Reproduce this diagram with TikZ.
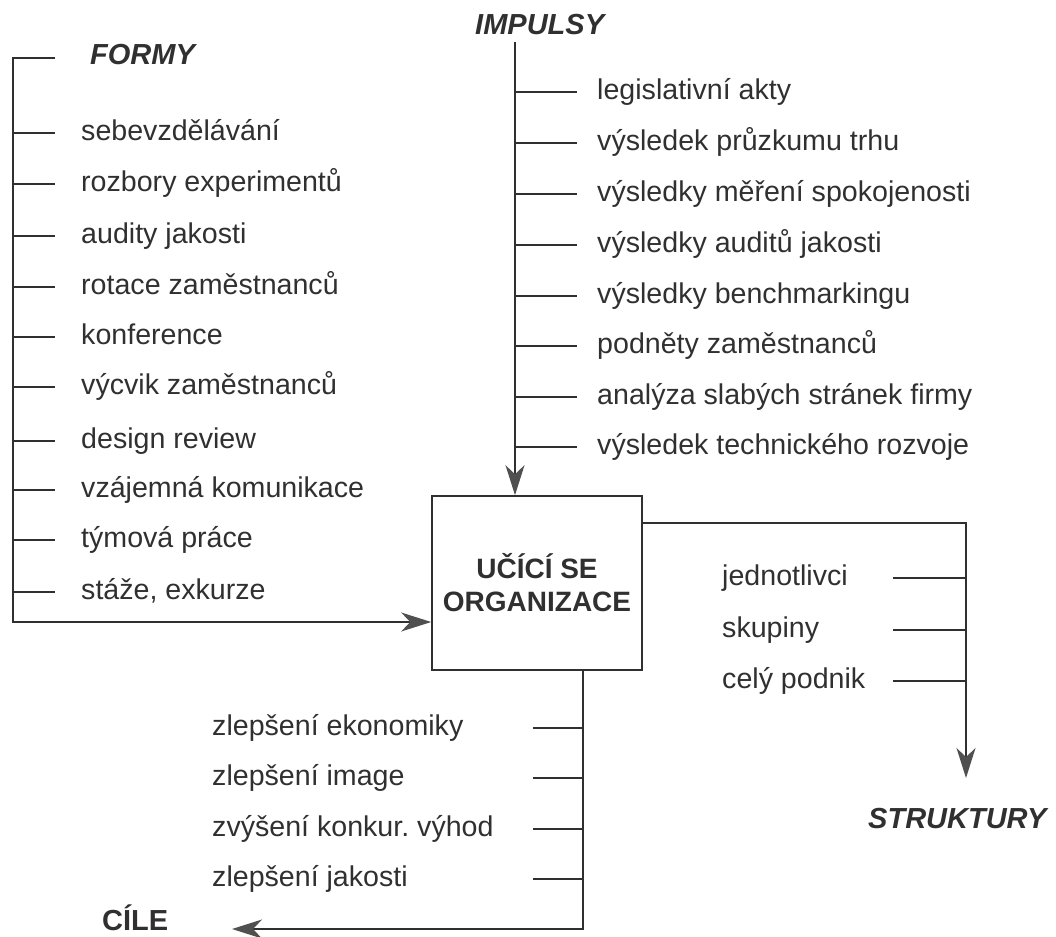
\documentclass[tikz,border=0pt]{standalone}
\usepackage{fontspec}
\setmainfont{Liberation Sans}
\usetikzlibrary{arrows.meta}
\definecolor{ink}{HTML}{303030}
\definecolor{tip}{HTML}{505050}
\frenchspacing
\begin{document}
\begin{tikzpicture}[x=1pt,y=-1pt,
  lbl/.style={anchor=base west, inner sep=0pt, text=ink, font=\fontsize{28.6}{32}\selectfont},
  head/.style={anchor=base west, inner sep=0pt, text=ink, font=\fontsize{29}{34}\selectfont\bfseries\itshape},
  headup/.style={anchor=base west, inner sep=0pt, text=ink, font=\fontsize{29}{34}\selectfont\bfseries},
  conn/.style={draw=ink, line width=1.4pt},
  arr/.style={conn, -{Stealth[length=30pt, width=19pt, inset=9pt, fill=tip, color=tip]}},
  orgbox/.style={draw=ink, line width=1.6pt, minimum width=210pt, minimum height=174pt,
    inner sep=0pt, align=center, text=ink, font=\fontsize{28}{33}\selectfont\bfseries}]
\useasboundingbox (0,0) rectangle (1056,936);

% central box
\node[orgbox] (org) at (537,583) {UČÍCÍ SE\\ORGANIZACE};

% FORMY
\node[head] (formy) at (90,65) {FORMY};
\coordinate (ftop) at (13,58);
\coordinate (ftopend) at (55,58);
\coordinate (fbot) at (13,622);
\draw[conn] (ftop) -- (ftopend);
\draw[arr] (ftopend) -- (ftop) -- (fbot) -- (fbot -| org.west);
\foreach \y/\t [count=\i] in {133/sebevzdělávání, 184/rozbory experimentů, 236/audity jakosti,
  287/rotace zaměstnanců, 337/konference, 387/výcvik zaměstnanců, 441/design review,
  490/vzájemná komunikace, 540/týmová práce, 592/{stáže, exkurze}} {
  \node[lbl] (f\i) at (81,\y+7.5) {\t};
  \coordinate (fa\i) at (13,\y);
  \coordinate (fb\i) at (55,\y);
  \draw[conn] (fa\i) -- (fb\i);
}

% IMPULSY
\node[head] (imp) at (475,35) {IMPULSY};
\coordinate (itop) at (515,42);
\draw[arr] (itop) -- (itop |- org.north);
\foreach \y/\t [count=\i] in {92/legislativní akty, 143/výsledek průzkumu trhu,
  194/výsledky měření spokojenosti, 245/výsledky auditů jakosti, 296/výsledky benchmarkingu,
  346/podněty zaměstnanců, 397/analýza slabých stránek firmy, 447/výsledek technického rozvoje} {
  \node[lbl] (i\i) at (597,\y+7.5) {\t};
  \coordinate (ia\i) at (515,\y);
  \coordinate (ib\i) at (577,\y);
  \draw[conn] (ia\i) -- (ib\i);
}

% STRUKTURY
\coordinate (rcorner) at (966,523);
\coordinate (rend) at (966,778);
\draw[arr] (rcorner -| org.east) -- (rcorner) -- (rend);
\node[head] (str) at (868,828) {STRUKTURY};
\foreach \y/\t [count=\i] in {578/jednotlivci, 630/skupiny, 681/celý podnik} {
  \node[lbl] (s\i) at (722,\y+7.5) {\t};
  \coordinate (sa\i) at (893,\y);
  \coordinate (sb\i) at (966,\y);
  \draw[conn] (sa\i) -- (sb\i);
}

% CÍLE
\coordinate (bcorner) at (583,929);
\coordinate (cend) at (232,929);
\draw[arr] (org.south -| bcorner) -- (bcorner) -- (cend);
\node[headup] (cile) at (102,930) {CÍLE};
\foreach \y/\t [count=\i] in {728/zlepšení ekonomiky, 778/zlepšení image,
  829/zvýšení konkur. výhod, 879/zlepšení jakosti} {
  \node[lbl] (c\i) at (212,\y+7.5) {\t};
  \coordinate (ca\i) at (533,\y);
  \coordinate (cb\i) at (583,\y);
  \draw[conn] (ca\i) -- (cb\i);
}
\end{tikzpicture}
\end{document}
